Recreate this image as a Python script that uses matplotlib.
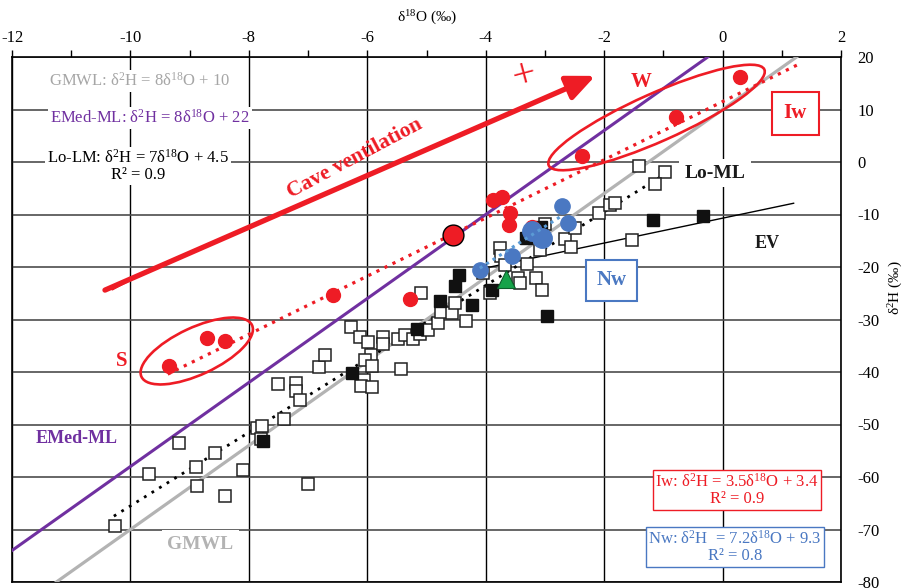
import numpy as np
import matplotlib
matplotlib.use("Agg")
import matplotlib.pyplot as plt
from matplotlib import transforms
from matplotlib.patches import Ellipse

plt.rcParams["font.family"] = ["Liberation Serif", "DejaVu Serif"]
plt.rcParams["mathtext.fontset"] = "custom"
plt.rcParams["mathtext.rm"] = "Liberation Serif"
plt.rcParams["mathtext.it"] = "Liberation Serif:italic"
plt.rcParams["axes.unicode_minus"] = False

RED = "#ee1c25"
BLUE = "#4a78c2"
LBLUE = "#5b9bd5"
PURPLE = "#7030a0"
GRAY = "#b3b3b3"

# ---- data (d18O, d2H) ----
open_x = [-10.26, -9.69, -9.18, -8.89, -8.88, -8.57, -8.40, -8.10, -7.86, -7.78,
          -7.79, -7.51, -7.20, -7.20, -7.14, -7.41, -7.00, -6.82, -6.71, -6.27,
          -6.12, -5.99, -5.94, -6.04, -5.92, -6.05, -6.11, -5.92, -5.73, -5.73,
          -5.48, -5.36, -5.23, -5.11, -4.97, -5.43, -5.09, -4.81, -4.75, -4.57,
          -4.52, -4.33, -4.05, -3.93, -3.76, -3.74, -3.67, -3.45, -3.42, -3.15,
          -3.05, -3.30, -3.08, -3.00, -2.66, -2.56, -2.49, -2.09, -1.90, -1.82,
          -1.53, -1.41, -0.97, -1.14]
open_y = [-69.3, -59.4, -53.5, -58.1, -61.7, -55.4, -63.6, -58.7, -50.7, -50.3,
          -52.8, -42.3, -42.1, -43.6, -45.3, -49.0, -61.3, -39.0, -36.8, -31.4,
          -33.3, -34.3, -36.8, -37.7, -38.9, -41.5, -42.7, -42.9, -33.3, -34.7,
          -33.7, -33.0, -33.7, -32.8, -32.0, -39.4, -25.0, -30.7, -28.6, -28.8,
          -26.9, -30.3, -21.1, -25.0, -16.4, -17.9, -19.6, -22.1, -23.0, -22.1,
          -24.4, -19.4, -16.8, -11.8, -14.7, -16.2, -12.6, -9.7, -8.2, -7.8,
          -14.9, -0.8, -1.9, -4.2]

black_x = [-7.76, -6.26, -5.16, -4.77, -4.52, -4.45, -4.23, -3.89, -2.96, -3.32,
           -3.07, -1.17, -0.33]
black_y = [-53.1, -40.2, -31.8, -26.5, -23.6, -21.5, -27.2, -24.4, -29.3, -14.5,
           -12.4, -11.0, -10.3]

iw_x = [0.30, -0.79, -2.37, -3.88, -3.72, -3.59, -3.61, -3.22, -5.28, -6.58,
        -9.35, -8.71, -8.40]
iw_y = [16.2, 8.6, 1.1, -7.2, -6.7, -9.7, -12.0, -12.4, -26.1, -25.3,
        -38.9, -33.5, -34.1]
iw_big_x = [-4.55]
iw_big_y = [-13.9]

nw_x = [-2.71, -2.61, -3.56, -4.10]
nw_y = [-8.4, -11.6, -17.9, -20.6]
nw_big_x = [-3.22, -3.05]
nw_big_y = [-13.2, -14.4]

green_x = [-3.66]
green_y = [-22.3]

# regression / reference lines: (slope, intercept, x_start, x_end)
gmwl = (8.0, 10.0, -11.25, 1.25)
emed = (8.0, 22.0, -12.0, -0.25)
lolm = (7.0, 4.5, -10.28, -0.97)
iw_fit = (5.54, 11.5, -9.37, 1.27)
nw_fit = (7.2, 9.3, -4.10, -2.70)
ev_line = (2.37, -10.7, -4.0, 1.2)

arrow_start = (-10.43, -24.4)
arrow_end = (-2.15, 16.4)


def line_xy(spec):
    a, b, x0, x1 = spec
    xs = np.array([x0, x1])
    return xs, a * xs + b


fig = plt.figure(figsize=(9.09, 5.88), dpi=100)
ax = fig.add_axes([12 / 909, 6 / 588, 829 / 909, 525 / 588])
ax.set_xlim(-12, 2)
ax.set_ylim(-80, 20)

ax.xaxis.tick_top()
ax.xaxis.set_label_position("top")
ax.yaxis.tick_right()
ax.yaxis.set_label_position("right")
ax.set_xticks(np.arange(-12, 3, 2))
ax.set_xticks(np.arange(-11, 2, 2), minor=True)
ax.set_yticks(np.arange(-80, 21, 10))
ax.tick_params(axis="x", which="both", direction="out", length=5, width=1,
               top=True, bottom=False, labelsize=12, pad=3)
ax.tick_params(axis="y", length=0, pad=12, labelsize=12)
ax.set_xlabel("δ$^{18}$O (‰)", fontsize=11, labelpad=6)
ax.set_ylabel("δ$^{2}$H (‰)", fontsize=11)
ax.yaxis.set_label_coords(1.055, 0.56)

ax.grid(axis="x", which="major", color="black", lw=1)
ax.grid(axis="y", which="major", color="#4d4d4d", lw=1.2)
ax.set_axisbelow(True)
for s in ax.spines.values():
    s.set_linewidth(1.2)

# lines
x, y = line_xy(gmwl)
ax.plot(x, y, color=GRAY, lw=2.3, zorder=3)
x, y = line_xy(emed)
ax.plot(x, y, color=PURPLE, lw=2.2, zorder=3)
x, y = line_xy(lolm)
ax.plot(x, y, color="black", lw=2.0, ls=(0, (1, 2.2)), zorder=3)
x, y = line_xy(iw_fit)
ax.plot(x, y, color=RED, lw=2.3, ls=(0, (1, 1.8)), zorder=3)
x, y = line_xy(ev_line)
ax.plot(x, y, color="black", lw=1.0, zorder=3)

# points
ax.plot(open_x, open_y, "s", ms=8.5, mfc="white", mec="#222222", mew=1.1, zorder=4)
ax.plot(black_x, black_y, "s", ms=8.5, mfc="#111111", mec="#111111", zorder=5)
ax.plot(iw_x, iw_y, "o", ms=10, color=RED, mec=RED, zorder=6)
ax.plot(iw_big_x, iw_big_y, "o", ms=15, color=RED, mec="black", mew=1, zorder=6)
ax.plot(nw_big_x, nw_big_y, "o", ms=14, color=BLUE, mec=BLUE, zorder=6)
ax.plot(nw_x, nw_y, "o", ms=11, color=BLUE, mec=BLUE, zorder=6)
x, y = line_xy(nw_fit)
ax.plot(x, y, color=LBLUE, lw=2.2, ls=(0, (1, 1.5)), zorder=7)
ax.plot(green_x, green_y, "^", ms=13, color="#16a34a", mec="#0d5e2b", mew=0.8, zorder=7)

# ellipses (sized in inches, centered on data points)
for cx, cy, w, h, ang in [(-1.115, 8.48, 2.36, 0.48, 24), (-8.88, -36.0, 1.22, 0.47, 25)]:
    tr = fig.dpi_scale_trans + transforms.ScaledTranslation(cx, cy, ax.transData)
    ax.add_patch(Ellipse((0, 0), w, h, angle=ang, transform=tr, fill=False,
                         ec=RED, lw=1.9, zorder=6))

# cave ventilation arrow
ax.annotate("", xy=arrow_end, xytext=arrow_start,
            arrowprops=dict(arrowstyle="-|>,head_length=1.7,head_width=0.75",
                            color=RED, lw=3.8, shrinkA=0, shrinkB=0), zorder=6)
ax.text(-6.21, 0.6, "Cave ventilation", color=RED, fontsize=15.5, fontweight="bold",
        rotation=28, ha="center", va="center", zorder=8)
ax.text(-3.34, 16.4, "+", color=RED, fontsize=30, rotation=15,
        ha="center", va="center", zorder=8)
ax.text(-10.18, -23.4, "–", color=RED, fontsize=28, fontweight="bold", rotation=28,
        ha="center", va="center", zorder=8)

# labels
wb = dict(facecolor="white", edgecolor="none", pad=1.5)
ax.text(-1.38, 15.2, "W", color=RED, fontsize=15, fontweight="bold", ha="center", va="center", zorder=8)
ax.text(-10.14, -38.0, "S", color=RED, fontsize=15, fontweight="bold", ha="center", va="center", zorder=8)
ax.text(1.23, 9.3, "Iw", color=RED, fontsize=15, fontweight="bold", ha="center", va="center",
        bbox=dict(facecolor="white", edgecolor=RED, lw=1.5, boxstyle="square,pad=0.55"), zorder=8)
ax.text(-1.88, -22.5, "Nw", color=BLUE, fontsize=15, fontweight="bold", ha="center", va="center",
        bbox=dict(facecolor="white", edgecolor=BLUE, lw=1.5, boxstyle="square,pad=0.5"), zorder=8)
ax.text(-0.13, -2.1, "Lo-ML", color="#1a1a1a", fontsize=14, fontweight="bold", ha="center",
        va="center", bbox=dict(facecolor="white", edgecolor="none", pad=4), zorder=8)
ax.text(0.75, -15.5, "EV", color="#1a1a1a", fontsize=13, fontweight="bold", ha="center",
        va="center", zorder=8)
ax.text(-10.9, -52.7, "EMed-ML", color=PURPLE, fontsize=13, fontweight="bold", ha="center",
        va="center", zorder=8)
ax.text(-8.82, -72.8, "GMWL", color=GRAY, fontsize=14, fontweight="bold", ha="center",
        va="center", bbox=dict(facecolor="white", edgecolor="none", pad=4), zorder=8)

ax.text(-9.85, 15.4, "GMWL: δ$^{2}$H = 8δ$^{18}$O + 10", color="#a6a6a6", fontsize=12,
        ha="center", va="center", bbox=wb, zorder=8)
ax.text(-9.67, 8.4, "EMed-ML: δ$^{2}$H = 8δ$^{18}$O + 22", color=PURPLE, fontsize=12,
        ha="center", va="center", bbox=wb, zorder=8)
ax.text(-9.87, -0.8, "Lo-LM: δ$^{2}$H = 7δ$^{18}$O + 4.5\nR² = 0.9", color="black",
        fontsize=12, ha="center", va="center", linespacing=1.05, bbox=wb, zorder=8)

ax.text(0.245, -62.5, "Iw: δ$^{2}$H = 3.5δ$^{18}$O + 3.4\nR² = 0.9", color=RED, fontsize=12,
        ha="center", va="center", linespacing=1.05, zorder=8,
        bbox=dict(facecolor="white", edgecolor=RED, lw=1, boxstyle="square,pad=0.15"))
ax.text(0.21, -73.3, "Nw: δ$^{2}$H  = 7.2δ$^{18}$O + 9.3\nR² = 0.8", color=BLUE, fontsize=12,
        ha="center", va="center", linespacing=1.05, zorder=8,
        bbox=dict(facecolor="white", edgecolor=BLUE, lw=1, boxstyle="square,pad=0.15"))

fig.savefig("out.png", dpi=100)
